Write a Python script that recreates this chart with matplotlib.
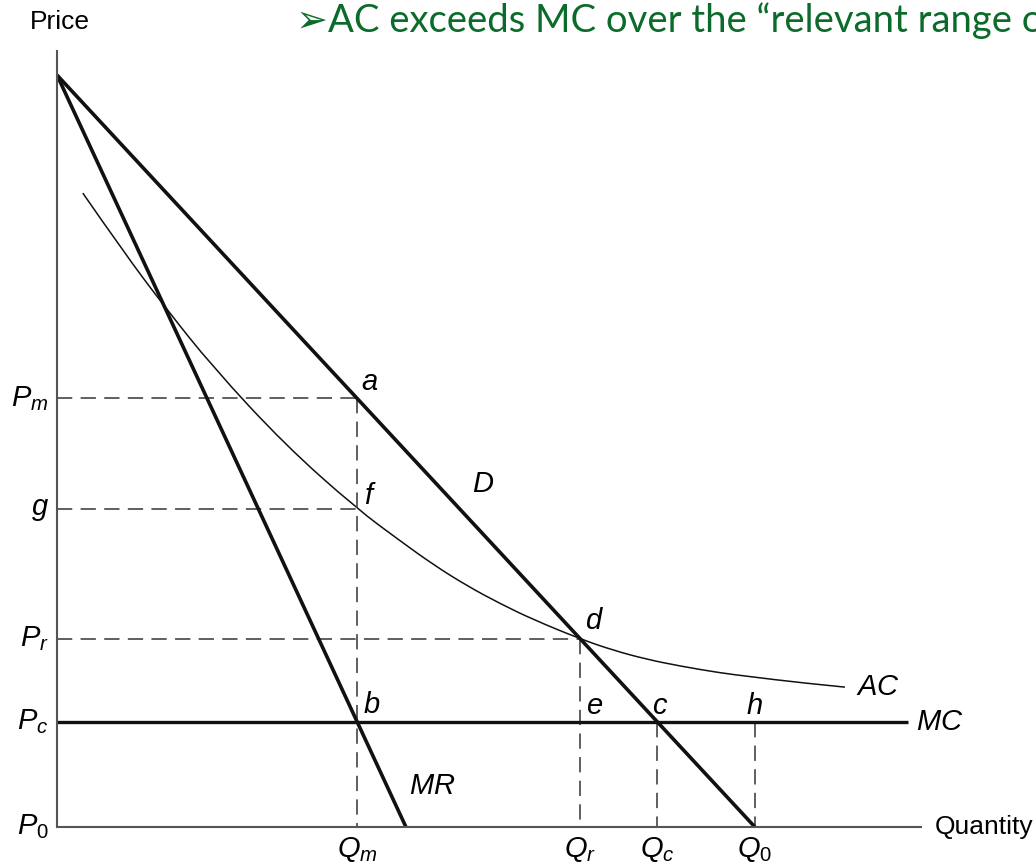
import matplotlib
matplotlib.use("Agg")
import matplotlib.pyplot as plt
from matplotlib.path import Path
from matplotlib.patches import PathPatch

plt.rcParams['mathtext.fontset'] = 'custom'
plt.rcParams['mathtext.it'] = 'Liberation Sans:italic'
plt.rcParams['mathtext.rm'] = 'Liberation Sans'
plt.rcParams['mathtext.default'] = 'it'
plt.rcParams['lines.scale_dashes'] = False

# ---- data (Quantity units, Price units) ----
demand_q = [0.0, 10.0]
demand_p = [10.0, 0.0]
mr_q = [0.0, 5.0]
mr_p = [10.0, 0.0]
mc_q = [0.0, 12.19]
mc_p = [1.4, 1.4]
ac_q = [0.37, 0.96, 1.55, 2.23, 3.27, 4.30, 4.91, 5.39, 5.87, 6.35, 6.82,
        7.50, 7.97, 8.45, 8.93, 9.50, 9.93, 10.64, 11.29]
ac_p = [8.43, 7.64, 6.91, 6.12, 5.08, 4.23, 3.81, 3.49, 3.21, 2.97, 2.76,
        2.50, 2.35, 2.23, 2.14, 2.05, 2.00, 1.92, 1.86]

Pm, g, Pr, Pc = 5.7, 4.23, 2.5, 1.4
Qm, Qr, Qc, Q0 = 4.3, 7.5, 8.6, 10.0

price_labels = [r'$P_m$', r'$g$', r'$P_r$', r'$P_c$', r'$P_0$']
price_values = [Pm, g, Pr, Pc, 0.0]
qty_labels = [r'$Q_m$', r'$Q_r$', r'$Q_c$', r'$Q_0$']
qty_values = [Qm, Qr, Qc, Q0]

fig = plt.figure(figsize=(10.36, 8.68), dpi=100)
fig.patch.set_facecolor('white')
ax = fig.add_axes([57/1036, 41/868, 864/1036, 776/868])
ax.set_xlim(0, 12.38)
ax.set_ylim(0, 10.32)
for s in ['top', 'right']:
    ax.spines[s].set_visible(False)
for s in ['left', 'bottom']:
    ax.spines[s].set_color('#555555')
    ax.spines[s].set_linewidth(1.5)
ax.set_xticks([])
ax.set_yticks([])

dash = (0, (11, 6))
dcol = '#444444'
dlw = 1.2
# dashed guides
ax.plot([0, Qm], [Pm, Pm], color=dcol, lw=dlw, ls=dash)
ax.plot([Qm, Qm], [Pm, 0], color=dcol, lw=dlw, ls=dash)
ax.plot([0, Qm], [g, g], color=dcol, lw=dlw, ls=dash)
ax.plot([0, Qr], [Pr, Pr], color=dcol, lw=dlw, ls=dash)
ax.plot([Qr, Qr], [Pr, 0], color=dcol, lw=dlw, ls=dash)
ax.plot([Qc, Qc], [Pc, 0], color=dcol, lw=dlw, ls=dash)
ax.plot([Q0, Q0], [Pc, 0], color=dcol, lw=dlw, ls=dash)

# AC curve: smooth quadratic B-spline path using the read points as control points
pts = list(zip(ac_q, ac_p))
verts = [pts[0]]
codes = [Path.MOVETO]
for i in range(1, len(pts) - 1):
    mid = ((pts[i][0] + pts[i + 1][0]) / 2, (pts[i][1] + pts[i + 1][1]) / 2)
    if i == len(pts) - 2:
        mid = pts[i + 1]
    verts += [pts[i], mid]
    codes += [Path.CURVE3, Path.CURVE3]
ax.add_patch(PathPatch(Path(verts, codes), fill=False, edgecolor='#111111',
                       lw=1.1, transform=ax.transData))

ax.plot(mc_q, mc_p, color='#111111', lw=2.4, solid_capstyle='butt')
ax.plot(demand_q, demand_p, color='#111111', lw=2.6, solid_capstyle='butt')
ax.plot(mr_q, mr_p, color='#111111', lw=2.6, solid_capstyle='butt')

fs = 21
# price axis labels
for lab, v in zip(price_labels, price_values):
    ax.annotate(lab, xy=(0, v), xytext=(-6, 0), textcoords='offset points',
                ha='right', va='center', fontsize=fs, annotation_clip=False)
# quantity labels
for lab, v in zip(qty_labels, qty_values):
    ax.annotate(lab, xy=(v, 0), xytext=(0, -6), textcoords='offset points',
                ha='center', va='top', fontsize=fs, annotation_clip=False)

# point labels
def pt(lab, x, y, dx, dy, ha='left', va='bottom'):
    ax.annotate(lab, xy=(x, y), xytext=(dx, dy), textcoords='offset points',
                ha=ha, va=va, fontsize=fs, annotation_clip=False)

pt(r'$a$', Qm, Pm, 3, 2)
pt(r'$f$', Qm, g, 5, -1)
pt(r'$D$', 6.10, 4.56, 0, 0, ha='center', va='center')
pt(r'$d$', Qr, Pr, 3, 3)
pt(r'$b$', Qm, Pc, 4, 2)
pt(r'$e$', Qr, Pc, 4, 1)
pt(r'$c$', Qc, Pc, 2, 1, ha='center')
pt(r'$h$', Q0, Pc, 0, 1, ha='center')
pt(r'$AC$', ac_q[-1], ac_p[-1], 8, 0, va='center')
pt(r'$MC$', mc_q[-1], Pc, 6, 0, va='center')
pt(r'$MR$', 5.0, 0.55, 2, 0, va='center')

ax.annotate('Quantity', xy=(12.38, 0), xytext=(10, 0), textcoords='offset points',
            ha='left', va='center', fontsize=19, family='Liberation Sans',
            annotation_clip=False)
fig.text(60/1036, 1 - 22/868, 'Price', ha='center', va='center', fontsize=19,
         family='Liberation Sans')

fig.text(296/1036, 1 - 32/868, '\u27a2AC exceeds MC over the \u201crelevant range of output\u201d',
         ha='left', va='baseline', fontsize=27.5, color='#0b6b2b',
         family=['Lato', 'DejaVu Sans'])

fig.savefig('out.png', dpi=100, facecolor='white')
